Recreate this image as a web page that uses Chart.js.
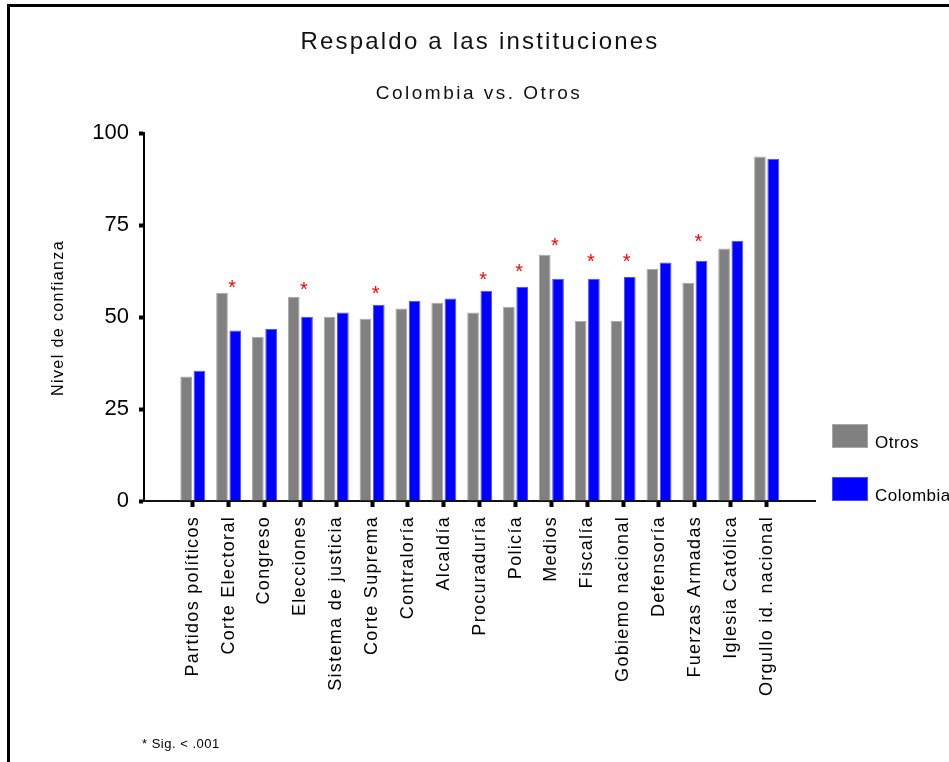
<!DOCTYPE html>
<html lang="es">
<head>
<meta charset="utf-8">
<title>Respaldo a las instituciones</title>
<script src="https://cdn.jsdelivr.net/npm/chart.js@4.4.1/dist/chart.umd.min.js"></script>
<style>
  html, body { margin: 0; padding: 0; background: #fff; }
  canvas { display: block; }
</style>
</head>
<body>
<canvas id="respaldoChart" width="949" height="762"></canvas>
<script>
// instituciones (eje x)
const categories = ['Partidos políticos', 'Corte Electoral', 'Congreso', 'Elecciones', 'Sistema de justicia',
  'Corte Suprema', 'Contraloría', 'Alcaldía', 'Procuraduría', 'Policía', 'Medios', 'Fiscalía',
  'Gobiemo nacional', 'Defensoría', 'Fuerzas Armadas', 'Iglesia Católica', 'Orgullo id. nacional'];

// nivel de confianza
const otros    = [33.8, 56.6, 44.6, 55.5, 50.1, 49.5, 52.3, 53.9, 51.2, 52.8, 66.9, 49.0, 49.0, 63.1, 59.3, 68.6, 93.6];
const colombia = [35.4, 46.3, 46.8, 50.1, 51.2, 53.3, 54.4, 55.0, 57.1, 58.2, 60.4, 60.4, 60.9, 64.8, 65.3, 70.7, 93.0];

// altura del asterisco (* Sig. < .001), null = no significativo
const sigMarks = [null, 59.2, null, 58.7, null, 57.6, null, null, 61.4, 63.7, 70.7, 66.4, 66.4, null, 71.8, null, null];

const yTicks = [0, 25, 50, 75, 100];

const FONT = '"Liberation Sans", Arial, Helvetica, sans-serif';

function drawText(ctx, text, x, y, size, spacing, align, angle) {
  ctx.save();
  ctx.translate(x, y);
  if (angle) ctx.rotate(angle);
  ctx.font = size + 'px ' + FONT;
  ctx.letterSpacing = spacing + 'px';
  ctx.textAlign = align;
  ctx.fillText(text, 0, 0);
  ctx.restore();
}

// textos, leyenda, marco y asteriscos
const extrasPlugin = {
  id: 'extras',
  afterDraw(chart) {
    const ctx = chart.ctx;
    const xs = chart.scales.x;
    const ys = chart.scales.y;

    ctx.save();
    // marco
    ctx.strokeStyle = '#000';
    ctx.lineWidth = 3;
    ctx.beginPath();
    ctx.moveTo(8.5, chart.height);
    ctx.lineTo(8.5, 5.5);
    ctx.lineTo(chart.width, 5.5);
    ctx.stroke();

    ctx.fillStyle = '#111';
    ctx.textBaseline = 'alphabetic';
    drawText(ctx, 'Respaldo a las instituciones', 480, 49, 24, 2.2, 'center');
    drawText(ctx, 'Colombia vs. Otros', 479, 99, 19, 2.5, 'center');

    ctx.fillStyle = '#000';
    drawText(ctx, 'Nivel de confianza', 63, 318, 16, 1.4, 'center', -Math.PI / 2);

    // etiquetas del eje x
    ctx.textBaseline = 'middle';
    categories.forEach((c, i) => {
      drawText(ctx, c, xs.getPixelForValue(i), ys.bottom + 15, 18, 1.3, 'right', -Math.PI / 2);
    });

    // asteriscos
    ctx.fillStyle = '#ff0000';
    ctx.textBaseline = 'alphabetic';
    sigMarks.forEach((v, i) => {
      if (v === null) return;
      drawText(ctx, '*', xs.getPixelForValue(i + 0.1), ys.getPixelForValue(v) + 11, 20, 0, 'center');
    });

    // leyenda
    const legendY = [424, 477];
    chart.data.datasets.forEach((ds, i) => {
      ctx.fillStyle = ds.backgroundColor;
      ctx.fillRect(832, legendY[i], 36, 24);
      ctx.strokeStyle = ds.borderColor;
      ctx.lineWidth = 1;
      ctx.strokeRect(832.5, legendY[i] + 0.5, 35, 23);
      ctx.fillStyle = '#000';
      drawText(ctx, ds.label, 875, legendY[i] + 24, 17, 0.5, 'left');
    });

    ctx.fillStyle = '#000';
    drawText(ctx, '* Sig. < .001', 142, 748, 13, 0.5, 'left');
    ctx.restore();
  }
};

const ctx = document.getElementById('respaldoChart').getContext('2d');
const respaldoChart = new Chart(ctx, {
  type: 'bar',
  data: {
    datasets: [{
      label: 'Otros',
      data: otros.map((v, i) => ({ x: i, y: v })),
      backgroundColor: '#808080',
      borderColor: '#a8a8a8',
      borderWidth: 1,
      categoryPercentage: 0.74,
      barPercentage: 0.88
    }, {
      label: 'Colombia',
      data: colombia.map((v, i) => ({ x: i, y: v })),
      backgroundColor: '#0000ff',
      borderColor: '#4d4dff',
      borderWidth: 1,
      categoryPercentage: 0.74,
      barPercentage: 0.88
    }]
  },
  options: {
    responsive: false,
    animation: false,
    layout: { padding: { top: 133, right: 134, bottom: 0, left: 0 } },
    plugins: {
      legend: { display: false },
      title: { display: false },
      tooltip: { enabled: false }
    },
    scales: {
      x: {
        type: 'linear',
        min: -1.36,
        max: 17.35,
        offset: false,
        grid: { drawOnChartArea: false, offset: false, tickLength: 6, tickWidth: 4, color: '#000' },
        border: { color: '#111', width: 2 },
        ticks: { display: false },
        afterBuildTicks: scale => { scale.ticks = categories.map((c, i) => ({ value: i })); },
        afterFit: scale => { scale.height = 261; }
      },
      y: {
        min: 0,
        max: 100,
        grid: { drawOnChartArea: false, tickLength: 5, tickWidth: 4, color: '#000' },
        border: { color: '#000', width: 2 },
        ticks: { color: '#000', padding: 10, font: { family: FONT, size: 22 } },
        afterBuildTicks: scale => { scale.ticks = yTicks.map(v => ({ value: v })); },
        afterFit: scale => { scale.width = 144; }
      }
    }
  },
  plugins: [extrasPlugin]
});
</script>
</body>
</html>
